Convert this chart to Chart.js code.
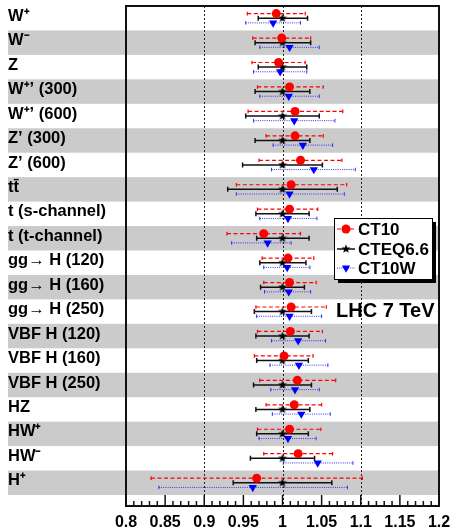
<!DOCTYPE html>
<html>
<head>
<meta charset="utf-8">
<script src="https://cdn.jsdelivr.net/npm/chart.js@4/dist/chart.umd.min.js"></script>
<style>
  html, body { margin: 0; padding: 0; background: #fff; }
  canvas { display: block; }
</style>
</head>
<body>
<canvas id="chart" width="451" height="528"></canvas>
<script>
// Processes (top to bottom)
const categories = ['W⁺', 'W⁻', 'Z', 'W⁺’ (300)', 'W⁺’ (600)', 'Z’ (300)', 'Z’ (600)', 'tt̄',
    't (s-channel)', 't (t-channel)', 'gg→ H (120)', 'gg→ H (160)', 'gg→ H (250)',
    'VBF H (120)', 'VBF H (160)', 'VBF H (250)', 'HZ', 'HW⁺', 'HW⁻', 'H⁺'];

// CT10 ratio and uncertainty band
const ct10   = [0.992, 0.999, 0.995, 1.009, 1.016, 1.016, 1.023, 1.011, 1.009, 0.976, 1.007, 1.009, 1.011, 1.010, 1.002, 1.019, 1.015, 1.009, 1.020, 0.967];
const ct10Lo = [0.955, 0.962, 0.961, 0.968, 0.956, 0.979, 0.970, 0.941, 0.968, 0.929, 0.974, 0.976, 0.966, 0.968, 0.964, 0.971, 0.979, 0.968, 0.976, 0.832];
const ct10Hi = [1.029, 1.036, 1.029, 1.052, 1.077, 1.052, 1.076, 1.082, 1.045, 1.023, 1.040, 1.043, 1.056, 1.051, 1.039, 1.068, 1.050, 1.049, 1.064, 1.102];

// CTEQ6.6 (reference = 1)
const cteq   = [1, 1, 1, 1, 1, 1, 1, 1, 1, 1, 1, 1, 1, 1, 1, 1, 1, 1, 1, 1];
const cteqLo = [0.969, 0.965, 0.969, 0.965, 0.953, 0.965, 0.949, 0.930, 0.966, 0.967, 0.971, 0.972, 0.964, 0.966, 0.967, 0.963, 0.966, 0.967, 0.959, 0.937];
const cteqHi = [1.032, 1.036, 1.031, 1.035, 1.047, 1.035, 1.051, 1.070, 1.034, 1.034, 1.030, 1.028, 1.037, 1.034, 1.033, 1.037, 1.035, 1.033, 1.041, 1.063];

// CT10W
const ct10w   = [0.988, 1.009, 0.997, 1.008, 1.015, 1.026, 1.040, 1.009, 1.007, 0.981, 1.006, 1.008, 1.009, 1.020, 1.021, 1.016, 1.024, 1.007, 1.045, 0.962];
const ct10wLo = [0.953, 0.971, 0.963, 0.971, 0.963, 0.988, 0.986, 0.941, 0.971, 0.935, 0.976, 0.977, 0.967, 0.986, 0.984, 0.985, 0.987, 0.970, 1.001, 0.842];
const ct10wHi = [1.023, 1.047, 1.031, 1.047, 1.067, 1.064, 1.093, 1.079, 1.044, 1.011, 1.035, 1.036, 1.050, 1.055, 1.058, 1.047, 1.061, 1.043, 1.090, 1.083];

// x axis
const xTicks = [0.8, 0.85, 0.9, 0.95, 1, 1.05, 1.1, 1.15, 1.2];
const refLines = [0.9, 1, 1.1];

const FONT = "'Liberation Sans', Arial, sans-serif";

// filled five point star used as marker
function makeStar(size, color) {
    const c = document.createElement('canvas');
    c.width = size; c.height = size;
    const g = c.getContext('2d');
    const cx = size / 2, cy = size / 2, ro = size / 2 - 0.3, ri = ro * 0.42;
    g.beginPath();
    for (let k = 0; k < 10; k++) {
        const r = k % 2 === 0 ? ro : ri;
        const a = -Math.PI / 2 + k * Math.PI / 5;
        g.lineTo(cx + r * Math.cos(a), cy + r * Math.sin(a));
    }
    g.closePath();
    g.fillStyle = color;
    g.fill();
    return c;
}
const starImg = makeStar(10, '#000');

const rowPts = (vals, off) => vals.map((v, i) => ({ x: v, y: i + 0.5 + off }));

// error bar styles per series
const errSeries = [
    { lo: ct10Lo, hi: ct10Hi, off: -0.19, color: '#ff0000', width: 1.2, dash: [4, 2.5], cap: 1.8 },
    { lo: cteqLo, hi: cteqHi, off: 0, color: '#111', width: 1.5, dash: [], cap: 2.5 },
    { lo: ct10wLo, hi: ct10wHi, off: 0.19, color: '#3030ff', width: 1, dash: [1, 1.2], cap: 1.8 }
];

const decor = {
    id: 'decor',
    beforeDraw(chart) {
        const { ctx, chartArea: a, scales: { y } } = chart;
        ctx.save();
        ctx.fillStyle = '#cbcbcb';
        categories.forEach((c, i) => {
            if (i % 2 === 1) {
                const t = y.getPixelForValue(i), b = y.getPixelForValue(i + 1);
                ctx.fillRect(8, t, a.right - 8, b - t);
            }
        });
        ctx.restore();
    },
    beforeDatasetsDraw(chart) {
        const { ctx, chartArea: a, scales: { x, y } } = chart;
        ctx.save();
        // dashed reference lines
        ctx.strokeStyle = '#222';
        ctx.lineWidth = 1;
        ctx.setLineDash([2, 2]);
        refLines.forEach(v => {
            const px = Math.round(x.getPixelForValue(v)) + 0.5;
            ctx.beginPath();
            ctx.moveTo(px, a.top);
            ctx.lineTo(px, a.bottom);
            ctx.stroke();
        });
        // error bars
        errSeries.forEach(s => {
            ctx.strokeStyle = s.color;
            ctx.lineWidth = s.width;
            s.lo.forEach((lo, i) => {
                const py = y.getPixelForValue(i + 0.5 + s.off);
                const x1 = x.getPixelForValue(lo), x2 = x.getPixelForValue(s.hi[i]);
                ctx.setLineDash(s.dash);
                ctx.beginPath();
                ctx.moveTo(x1, py);
                ctx.lineTo(x2, py);
                ctx.stroke();
                ctx.setLineDash([]);
                ctx.beginPath();
                ctx.moveTo(x1, py - s.cap); ctx.lineTo(x1, py + s.cap);
                ctx.moveTo(x2, py - s.cap); ctx.lineTo(x2, py + s.cap);
                ctx.stroke();
            });
        });
        ctx.restore();
    },
    afterDraw(chart) {
        const { ctx, chartArea: a, scales: { x } } = chart;
        ctx.save();
        // frame
        ctx.strokeStyle = '#111';
        ctx.lineWidth = 2;
        ctx.strokeRect(a.left, a.top, a.right - a.left, a.bottom - a.top);
        // inward ticks
        ctx.lineWidth = 1.5;
        for (let k = 80; k <= 120; k++) {
            const px = x.getPixelForValue(k / 100);
            const len = k % 5 === 0 ? 11 : 5;
            ctx.beginPath();
            ctx.moveTo(px, a.bottom);
            ctx.lineTo(px, a.bottom - len);
            ctx.stroke();
        }
        // legend
        const lx = 334, ly = 218, lw = 98, lh = 61;
        ctx.fillStyle = '#000';
        ctx.fillRect(lx + 4, ly + 4, lw, lh);
        ctx.fillStyle = '#fff';
        ctx.fillRect(lx, ly, lw, lh);
        ctx.lineWidth = 1;
        ctx.strokeStyle = '#000';
        ctx.strokeRect(lx + 0.5, ly + 0.5, lw, lh);
        const entries = [
            { name: 'CT10', s: errSeries[0], ds: 0, yy: ly + 11 },
            { name: 'CTEQ6.6', s: errSeries[1], ds: 1, yy: ly + 31 },
            { name: 'CT10W', s: errSeries[2], ds: 2, yy: ly + 50 }
        ];
        entries.forEach(e => {
            ctx.strokeStyle = e.s.color;
            ctx.lineWidth = e.s.width;
            ctx.setLineDash(e.s.dash);
            ctx.beginPath();
            ctx.moveTo(lx + 3, e.yy);
            ctx.lineTo(lx + 21, e.yy);
            ctx.stroke();
            ctx.setLineDash([]);
            const d = chart.data.datasets[e.ds];
            ctx.fillStyle = d.backgroundColor;
            ctx.strokeStyle = d.borderColor;
            Chart.helpers.drawPoint(ctx, {
                pointStyle: d.pointStyle, rotation: d.rotation || 0, radius: d.pointRadius, borderWidth: 0
            }, lx + 12, e.yy);
            ctx.fillStyle = '#000';
            ctx.font = 'bold 17px ' + FONT;
            ctx.textBaseline = 'middle';
            ctx.textAlign = 'left';
            ctx.fillText(e.name, lx + 24, e.yy + 1);
        });
        ctx.font = 'bold 20px ' + FONT;
        ctx.fillStyle = '#000';
        ctx.textBaseline = 'middle';
        ctx.fillText('LHC 7 TeV', 336, 311);
        ctx.restore();
    }
};

new Chart(document.getElementById('chart'), {
    type: 'scatter',
    data: {
        datasets: [{
            label: 'CT10',
            data: rowPts(ct10, -0.19),
            pointStyle: 'circle',
            pointRadius: 4.5,
            backgroundColor: '#ff0000',
            borderColor: '#ff0000',
            borderWidth: 0
        }, {
            label: 'CTEQ6.6',
            data: rowPts(cteq, 0),
            pointStyle: starImg,
            pointRadius: 5,
            backgroundColor: '#000',
            borderColor: '#000'
        }, {
            label: 'CT10W',
            data: rowPts(ct10w, 0.19),
            pointStyle: 'triangle',
            rotation: 180,
            pointRadius: 4.8,
            backgroundColor: '#0000ff',
            borderColor: '#0000ff',
            borderWidth: 0
        }]
    },
    options: {
        responsive: false,
        animation: false,
        layout: { padding: { left: 8, top: 5, right: 12, bottom: 0 } },
        plugins: { legend: { display: false }, tooltip: { enabled: false } },
        scales: {
            x: {
                type: 'linear',
                min: 0.8,
                max: 1.2,
                grid: { display: false, drawTicks: false },
                border: { display: false },
                afterBuildTicks: s => { s.ticks = xTicks.map(v => ({ value: v })); },
                afterFit: s => { s.height = 22; s.paddingLeft = 0; s.paddingRight = 0; },
                ticks: {
                    padding: 7,
                    color: '#000',
                    font: { family: FONT, size: 16, weight: 'bold' },
                    callback: v => String(+v.toFixed(2))
                }
            },
            y: {
                type: 'linear',
                reverse: true,
                min: 0,
                max: 20.45,
                grid: { display: false, drawTicks: false },
                border: { display: false },
                afterBuildTicks: s => { s.ticks = categories.map((c, i) => ({ value: i + 0.42 })); },
                afterFit: s => { s.width = 118; s.paddingTop = 0; s.paddingBottom = 0; },
                ticks: {
                    autoSkip: false,
                    crossAlign: 'far',
                    color: '#000',
                    font: { family: FONT, size: 16.5, weight: 'bold' },
                    callback: v => categories[Math.floor(v)]
                }
            }
        }
    },
    plugins: [decor]
});
</script>
</body>
</html>
